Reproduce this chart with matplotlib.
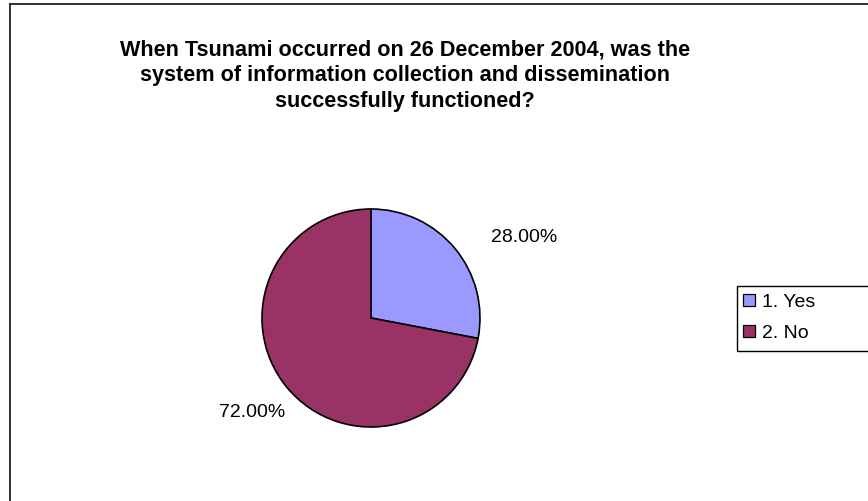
import numpy as np
import matplotlib.pyplot as plt
from matplotlib.lines import Line2D
from matplotlib.patches import Patch, Rectangle

plt.rcParams['font.family'] = ['Liberation Sans', 'DejaVu Sans']

# data
answers = ['1. Yes', '2. No']
shares = [28.0, 72.0]
colors = ['#9999FF', '#993366']
title = ('When Tsunami occurred on 26 December 2004, was the\n'
         'system of information collection and dissemination\n'
         'successfully functioned?')

W, H = 868, 501
fig = plt.figure(figsize=(W / 100, H / 100), dpi=100)
fig.patch.set_facecolor('white')

# chart area border (top and left visible)
fig.add_artist(Line2D([9.5 / W, 9.5 / W], [0, 1 - 3.5 / H], color='#222222', lw=1.3))
fig.add_artist(Line2D([9.5 / W, 1], [1 - 3.5 / H, 1 - 3.5 / H], color='#222222', lw=1.3))

fig.text(405 / W, 1 - 76 / H, title, ha='center', va='center', fontsize=15.6,
         fontweight='bold', linespacing=1.3)

# pie
cx, cy, r = 371, 318, 109
ax = fig.add_axes([(cx - r) / W, (H - cy - r) / H, 2 * r / W, 2 * r / H])
wedges, _ = ax.pie(shares, colors=colors, startangle=90, counterclock=False,
                   wedgeprops=dict(edgecolor='black', linewidth=1.2))
ax.set_xlim(-1, 1)
ax.set_ylim(-1, 1)
ax.set_aspect('equal')
ax.axis('off')

# label offsets from the wedge edge (points), Excel-like placement
offsets = [(26, 8), (-1, -18)]
for w, v, off in zip(wedges, shares, offsets):
    ang = np.deg2rad((w.theta1 + w.theta2) / 2)
    x, y = np.cos(ang), np.sin(ang)
    ha = 'left' if x > 0 else 'right'
    ax.annotate('%.2f%%' % v, (x, y), xytext=off, textcoords='offset points',
                ha=ha, va='center', fontsize=14, annotation_clip=False)

# legend box runs off the right edge
fig.add_artist(Rectangle((736.5 / W, 1 - 351 / H), (W + 10 - 736) / W, 65 / H,
                         transform=fig.transFigure, facecolor='white',
                         edgecolor='black', lw=1.0, clip_on=False))
handles = [Patch(facecolor=c, edgecolor='black', linewidth=0.9) for c in colors]
leg = fig.legend(handles, answers, loc='upper left',
                 bbox_to_anchor=(743 / W, 1 - 294 / H), fontsize=14,
                 frameon=False, handlelength=0.6, handleheight=0.6,
                 handletextpad=0.37, borderpad=0, labelspacing=0.71,
                 borderaxespad=0)

fig.savefig('out.png', dpi=100, facecolor='white')
